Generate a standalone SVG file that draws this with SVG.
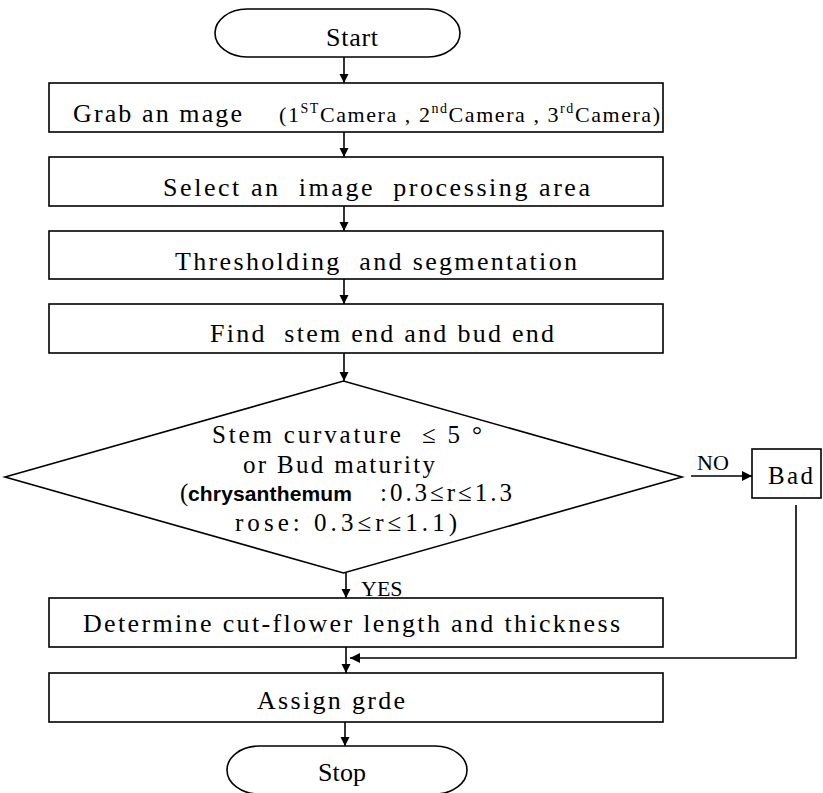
<svg xmlns="http://www.w3.org/2000/svg" width="823" height="793" viewBox="0 0 823 793">
<defs>
<style>
.box{fill:#fff;stroke:#000;stroke-width:1.6}
.t{font-family:"Liberation Serif","Times New Roman",serif;font-size:26px;fill:#000}
.d{font-family:"Liberation Serif","Times New Roman",serif;font-size:25px;fill:#000}
.s{font-family:"Liberation Serif","Times New Roman",serif;font-size:22px;fill:#000}
.b{font-family:"Liberation Sans",Arial,sans-serif;font-size:21px;font-weight:bold;fill:#000}
.sup{font-size:14px}
.ln{fill:none;stroke:#000;stroke-width:1.6}
</style>
<marker id="ah" viewBox="0 0 10 10" refX="10" refY="5" markerWidth="9" markerHeight="10" markerUnits="userSpaceOnUse" orient="auto">
<path d="M0,0 L10,5 L0,10 z" fill="#000"/>
</marker>
<marker id="ah2" viewBox="0 0 10 10" refX="10" refY="5" markerWidth="12" markerHeight="10" markerUnits="userSpaceOnUse" orient="auto">
<path d="M0,0 L10,5 L0,10 z" fill="#000"/>
</marker>
</defs>
<rect width="823" height="793" fill="#fff"/>

<g id="connectors">
<line class="ln" x1="344" y1="57" x2="344" y2="83" marker-end="url(#ah)"/>
<line class="ln" x1="344" y1="132" x2="344" y2="157" marker-end="url(#ah)"/>
<line class="ln" x1="344" y1="206" x2="344" y2="231" marker-end="url(#ah)"/>
<line class="ln" x1="344" y1="279" x2="344" y2="304" marker-end="url(#ah)"/>
<line class="ln" x1="344" y1="353" x2="344" y2="381" marker-end="url(#ah)"/>
<line class="ln" x1="346" y1="573" x2="346" y2="598" marker-end="url(#ah)"/>
<line class="ln" x1="691" y1="476" x2="752" y2="476" stroke-width="2.4" marker-end="url(#ah2)"/>
<text class="s" x="697" y="470" font-size="21">NO</text>
<text class="s" x="361" y="596">YES</text>
<polyline class="ln" points="796,505 796,658 350,658" stroke-width="2" marker-end="url(#ah2)"/>
<line class="ln" x1="346" y1="647" x2="346" y2="673" marker-end="url(#ah)"/>
<line class="ln" x1="345" y1="722" x2="345" y2="746" marker-end="url(#ah)"/>
</g>

<g id="start">
<rect class="box" x="215" y="9" width="245" height="48" rx="32" ry="24"/>
<text class="t" x="326" y="46" font-size="25" textLength="52" lengthAdjust="spacing">Start</text>
</g>

<g id="grab">
<rect class="box" x="49" y="83" width="614" height="49"/>
<text class="t" x="73" y="122" textLength="169" lengthAdjust="spacing">Grab an mage</text>
<text class="s" x="279" y="122" textLength="381" lengthAdjust="spacing">(1<tspan class="sup" dy="-9">ST</tspan><tspan dy="9">Camera , 2</tspan><tspan class="sup" dy="-9">nd</tspan><tspan dy="9">Camera , 3</tspan><tspan class="sup" dy="-9">rd</tspan><tspan dy="9">Camera)</tspan></text>
</g>

<g id="select">
<rect class="box" x="49" y="157" width="614" height="49"/>
<text class="t" x="163" y="196" textLength="427" lengthAdjust="spacing" xml:space="preserve">Select an  image  processing area</text>
</g>

<g id="threshold">
<rect class="box" x="49" y="231" width="614" height="48"/>
<text class="t" x="175" y="270" textLength="402" lengthAdjust="spacing" xml:space="preserve">Thresholding  and segmentation</text>
</g>

<g id="find">
<rect class="box" x="49" y="304" width="614" height="49"/>
<text class="t" x="210" y="342" textLength="344" lengthAdjust="spacing" xml:space="preserve">Find  stem end and bud end</text>
</g>

<g id="decision">
<polygon class="box" points="5,477 343.5,381 682,477 343.5,573"/>
<text class="d" x="212" y="443" textLength="270" lengthAdjust="spacing" xml:space="preserve">Stem curvature  ≤ 5 °</text>
<text class="d" x="243" y="473" textLength="192" lengthAdjust="spacing">or Bud maturity</text>
<text class="d" y="501"><tspan x="180">(</tspan><tspan class="b" x="188" textLength="164" lengthAdjust="spacing">chrysanthemum</tspan><tspan x="380" textLength="132" lengthAdjust="spacing">:0.3≤r≤1.3</tspan></text>
<text class="d" x="235" y="531" textLength="222" lengthAdjust="spacing">rose: 0.3≤r≤1.1)</text>
</g>

<g id="bad">
<rect class="box" x="752" y="449" width="69" height="49"/>
<text class="d" x="768" y="484" textLength="45" lengthAdjust="spacing">Bad</text>
</g>

<g id="determine">
<rect class="box" x="49" y="598" width="614" height="49"/>
<text class="t" x="83" y="632" textLength="537" lengthAdjust="spacing">Determine cut-flower length and thickness</text>
</g>

<g id="assign">
<rect class="box" x="49" y="673" width="614" height="49"/>
<text class="t" x="257" y="709" textLength="148" lengthAdjust="spacing">Assign grde</text>
</g>

<g id="stop">
<rect class="box" x="227" y="746" width="240" height="48" rx="32" ry="24"/>
<text class="t" x="318" y="781" font-size="25" textLength="48" lengthAdjust="spacing">Stop</text>
</g>
</svg>
